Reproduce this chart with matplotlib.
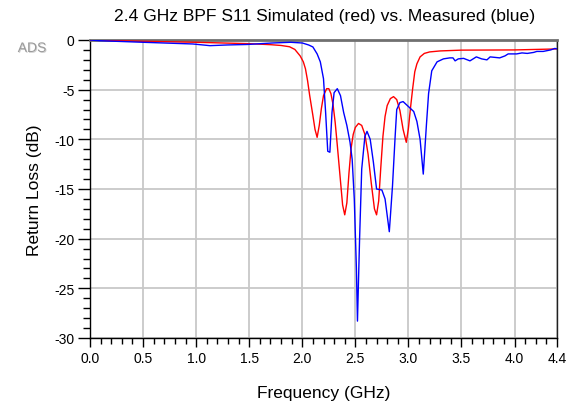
import matplotlib
matplotlib.use("Agg")
import matplotlib.pyplot as plt
import matplotlib.patheffects as pe
from matplotlib.ticker import MultipleLocator, FixedLocator

plt.rcParams['font.family'] = ['Liberation Sans', 'DejaVu Sans']

# Simulated S11 (dB) vs frequency (GHz)
sim_freq = [0.0, 0.5, 1.0, 1.5, 1.7, 1.8, 1.88, 1.93, 1.98, 2.01, 2.03, 2.05, 2.07,
            2.10, 2.12, 2.14, 2.16, 2.18, 2.20, 2.23, 2.25, 2.27, 2.29, 2.31, 2.33,
            2.36, 2.38, 2.40, 2.42, 2.44, 2.46, 2.48, 2.50, 2.53, 2.56, 2.59, 2.62,
            2.65, 2.68, 2.70, 2.72, 2.74, 2.76, 2.78, 2.80, 2.83, 2.86, 2.89, 2.92,
            2.95, 2.98, 3.00, 3.02, 3.04, 3.06, 3.08, 3.11, 3.15, 3.20, 3.30, 3.50,
            4.00, 4.40]
sim_s11 = [0.0, -0.13, -0.23, -0.37, -0.47, -0.55, -0.68, -0.95, -1.6, -2.2, -2.9,
           -4.1, -5.6, -7.6, -9.0, -9.8, -8.6, -6.9, -5.6, -4.9, -4.9, -5.4, -6.5,
           -8.3, -10.6, -14.2, -16.6, -17.6, -16.4, -13.4, -10.9, -9.5, -8.8, -8.4,
           -8.6, -9.5, -11.5, -14.4, -17.0, -17.6, -16.2, -12.8, -9.7, -7.7, -6.6,
           -5.9, -5.7, -6.0, -7.1, -9.0, -10.3, -8.9, -6.8, -4.9, -3.2, -2.4, -1.7,
           -1.35, -1.2, -1.1, -1.02, -1.0, -0.9]

# Measured S11 (dB) vs frequency (GHz)
meas_freq = [0.0, 0.09, 0.5, 0.97, 1.13, 1.29, 1.48, 1.72, 1.89, 2.00, 2.06, 2.10,
             2.14, 2.17, 2.20, 2.22, 2.24, 2.26, 2.28, 2.30, 2.33, 2.36, 2.39, 2.42,
             2.45, 2.47, 2.49, 2.51, 2.52, 2.54, 2.56, 2.59, 2.61, 2.64, 2.67, 2.70,
             2.75, 2.78, 2.82, 2.85, 2.875, 2.89, 2.92, 2.95, 3.00, 3.05, 3.08, 3.11,
             3.14, 3.17, 3.19, 3.22, 3.27, 3.33, 3.39, 3.42, 3.44, 3.47, 3.52, 3.58,
             3.64, 3.69, 3.74, 3.77, 3.86, 3.91, 3.94, 4.02, 4.07, 4.12, 4.18, 4.21,
             4.27, 4.34, 4.38, 4.40]
meas_s11 = [0.0, -0.07, -0.23, -0.4, -0.57, -0.5, -0.45, -0.3, -0.23, -0.3, -0.5,
            -0.7, -1.4, -2.2, -3.9, -7.3, -11.2, -11.3, -7.3, -5.3, -4.9, -5.6,
            -7.3, -8.6, -10.3, -12.0, -16.0, -23.0, -28.3, -20.0, -13.0, -9.7, -9.2,
            -10.0, -12.3, -15.0, -15.1, -16.0, -19.3, -14.7, -9.7, -7.0, -6.3,
            -6.2, -6.7, -7.2, -8.2, -10.0, -13.5, -8.5, -5.4, -3.1, -2.2, -1.9,
            -1.8, -1.8, -2.1, -1.9, -1.85, -2.1, -1.7, -1.9, -2.0, -1.7, -1.8,
            -1.6, -1.4, -1.4, -1.3, -1.35, -1.25, -1.15, -1.15, -1.0, -0.85, -0.9]

x_ticks = [0.0, 0.5, 1.0, 1.5, 2.0, 2.5, 3.0, 3.5, 4.0, 4.4]
x_labels = ["0.0", "0.5", "1.0", "1.5", "2.0", "2.5", "3.0", "3.5", "4.0", "4.4"]
y_ticks = [-30, -25, -20, -15, -10, -5, 0]
y_labels = ["-30", "-25", "-20", "-15", "-10", "-5", "0"]

W, H = 571, 402
fig = plt.figure(figsize=(W / 100, H / 100), dpi=100)
ax = fig.add_axes([90 / W, 1 - 339 / H, (557 - 90) / W, (339 - 41) / H])

ax.plot(sim_freq, sim_s11, color='#ff0000', lw=1.0, zorder=3)
ax.plot(meas_freq, meas_s11, color='#0000ff', lw=1.0, zorder=4)

ax.set_xlim(0, 4.4)
ax.set_ylim(-30, 0)

ax.xaxis.set_major_locator(FixedLocator(x_ticks))
ax.set_xticklabels(x_labels)
ax.xaxis.set_minor_locator(MultipleLocator(0.1))
ax.yaxis.set_major_locator(FixedLocator(y_ticks))
ax.set_yticklabels(y_labels)
ax.yaxis.set_minor_locator(MultipleLocator(1))

ax.grid(True, which='major', color='#c8c8c8', lw=1.3, zorder=0)
ax.set_axisbelow(True)

ax.tick_params(axis='x', which='major', direction='out', length=6.5, width=1.0,
               labelsize=10, pad=3)
ax.tick_params(axis='x', which='minor', direction='out', length=4, width=1.0)
ax.tick_params(axis='y', which='major', direction='out', length=9, width=1.0,
               labelsize=10, pad=2)
ax.tick_params(axis='y', which='minor', direction='out', length=5, width=1.0)

ax.spines['top'].set_color('#707070')
ax.spines['top'].set_linewidth(2.0)
ax.spines['right'].set_color('#202020')
ax.spines['right'].set_linewidth(1.0)
ax.spines['left'].set_linewidth(1.0)
ax.spines['bottom'].set_linewidth(1.0)

ax.set_xlabel("Frequency (GHz)", fontsize=12.5, labelpad=14)
ax.set_ylabel("Return Loss (dB)", fontsize=12.5, labelpad=9)
fig.text(325 / W, 1 - 17 / H, "2.4 GHz BPF S11 Simulated (red) vs. Measured (blue)",
         ha='center', va='center', fontsize=12.6)
fig.text(32 / W, 1 - 49 / H, "ADS", ha='center', va='center', fontsize=10,
         color='#9a9a9a',
         path_effects=[pe.withSimplePatchShadow(offset=(0.6, -0.6),
                                                shadow_rgbFace='#d0d0d0', alpha=1.0)])

fig.savefig("out.png", dpi=100)
